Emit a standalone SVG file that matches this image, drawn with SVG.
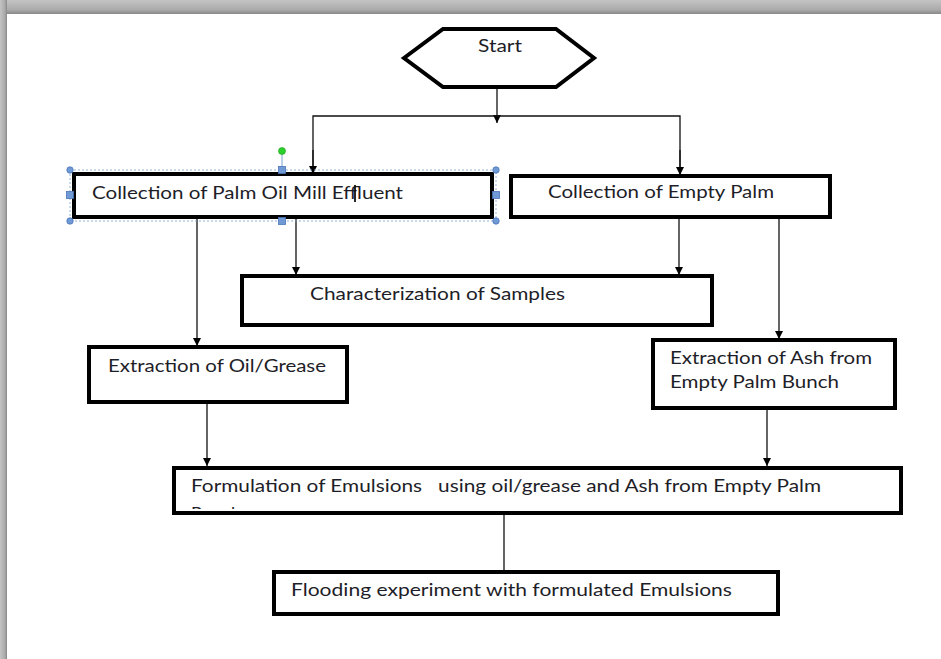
<svg xmlns="http://www.w3.org/2000/svg" width="941" height="659" viewBox="0 0 941 659">
<defs>
<linearGradient id="gTop" x1="0" y1="0" x2="0" y2="1">
<stop offset="0" stop-color="#c4c4c4"/>
<stop offset="0.7" stop-color="#aaaaaa"/>
<stop offset="1" stop-color="#888888"/>
</linearGradient>
<linearGradient id="gLeft" x1="0" y1="0" x2="1" y2="0">
<stop offset="0" stop-color="#c4c4c4"/>
<stop offset="0.7" stop-color="#aaaaaa"/>
<stop offset="1" stop-color="#888888"/>
</linearGradient>
<marker id="arr" viewBox="0 0 10 10" refX="10" refY="5" markerWidth="8" markerHeight="8" markerUnits="userSpaceOnUse" orient="auto">
<path d="M0,0 L10,5 L0,10 Z" fill="#000"/>
</marker>
<clipPath id="clipForm"><rect x="175" y="469" width="725" height="40"/></clipPath>
<style>
.box{fill:#fff;stroke:#000;stroke-width:4}
.lbl{font-family:Lato,"Liberation Sans",sans-serif;font-size:16.5px;fill:#1e1e28}
.con{fill:none;stroke:#111;stroke-width:1.3}
.hdl{fill:#6f9ad6;stroke:#4a74b8;stroke-width:0.8}
</style>
</defs>
<rect x="0" y="0" width="941" height="659" fill="#fff"/>
<rect x="0" y="0" width="941" height="14" fill="url(#gTop)"/>
<rect x="0" y="0" width="7" height="659" fill="url(#gLeft)"/>

<g id="connectors">
<line class="con" x1="497" y1="87" x2="497" y2="123" marker-end="url(#arr)"/>
<polyline class="con" points="313,174 313,116 680,116 680,174"/>
<line class="con" x1="313" y1="150" x2="313" y2="174" marker-end="url(#arr)"/>
<line class="con" x1="680" y1="150" x2="680" y2="175" marker-end="url(#arr)"/>
<line class="con" x1="197" y1="178" x2="197" y2="346" marker-end="url(#arr)"/>
<line class="con" x1="296" y1="218" x2="296" y2="275" marker-end="url(#arr)"/>
<line class="con" x1="679" y1="218" x2="679" y2="275" marker-end="url(#arr)"/>
<line class="con" x1="779" y1="218" x2="779" y2="339" marker-end="url(#arr)"/>
<line class="con" x1="207" y1="403" x2="207" y2="466" marker-end="url(#arr)"/>
<line class="con" x1="767" y1="409" x2="767" y2="466" marker-end="url(#arr)"/>
<line class="con" x1="504" y1="514" x2="504" y2="571"/>
</g>

<g id="start">
<polygon points="404,58 443,29 556,29 594,58 556,87 443,87" fill="#fff" stroke="#000" stroke-width="4"/>
<text class="lbl" x="478" y="52" textLength="44" lengthAdjust="spacingAndGlyphs">Start</text>
</g>

<g id="collect-pome">
<rect class="box" x="74" y="174" width="418" height="43"/>
<text class="lbl" x="92" y="199" textLength="311" lengthAdjust="spacingAndGlyphs">Collection of Palm Oil Mill Effluent</text>
<line x1="355" y1="185" x2="355" y2="202" stroke="#111" stroke-width="1.8"/>
<rect x="70" y="170" width="426" height="51" fill="none" stroke="#7d9fd0" stroke-width="0.8" stroke-dasharray="2,2"/>
<line x1="282" y1="151" x2="282" y2="170" stroke="#7d9fd0" stroke-width="1"/>
<circle cx="282" cy="151" r="3.5" fill="#2bd12b" stroke="#1a9a1a" stroke-width="0.6"/>
<circle class="hdl" cx="70" cy="170" r="3.2"/>
<circle class="hdl" cx="496" cy="170" r="3.2"/>
<circle class="hdl" cx="70" cy="221" r="3.2"/>
<circle class="hdl" cx="496" cy="221" r="3.2"/>
<rect class="hdl" x="278.5" y="166.5" width="7" height="7"/>
<rect class="hdl" x="278.5" y="217.5" width="7" height="7"/>
<rect class="hdl" x="66.5" y="191.5" width="7" height="7"/>
<rect class="hdl" x="492.5" y="191.5" width="7" height="7"/>
</g>

<g id="collect-efb">
<rect class="box" x="511" y="176" width="319" height="41"/>
<text class="lbl" x="548" y="198" textLength="226" lengthAdjust="spacingAndGlyphs">Collection of Empty Palm</text>
</g>

<g id="characterization">
<rect class="box" x="242" y="276" width="470" height="49"/>
<text class="lbl" x="310" y="300" textLength="255" lengthAdjust="spacingAndGlyphs">Characterization of Samples</text>
</g>

<g id="extract-oil">
<rect class="box" x="89" y="347" width="258" height="55"/>
<text class="lbl" x="108" y="372" textLength="218" lengthAdjust="spacingAndGlyphs">Extraction of Oil/Grease</text>
</g>

<g id="extract-ash">
<rect class="box" x="653" y="340" width="242" height="68"/>
<text class="lbl" x="670" y="364" textLength="202" lengthAdjust="spacingAndGlyphs">Extraction of Ash from</text>
<text class="lbl" x="670" y="388" textLength="169" lengthAdjust="spacingAndGlyphs">Empty Palm Bunch</text>
</g>

<g id="formulation">
<rect class="box" x="174" y="468" width="727" height="45"/>
<g clip-path="url(#clipForm)">
<text class="lbl" x="191" y="492" textLength="630" lengthAdjust="spacingAndGlyphs" xml:space="preserve">Formulation of Emulsions   using oil/grease and Ash from Empty Palm</text>
<text class="lbl" x="191" y="520" textLength="50" lengthAdjust="spacingAndGlyphs">Bunch</text>
</g>
</g>

<g id="flooding">
<rect class="box" x="274" y="572" width="504" height="42"/>
<text class="lbl" x="291" y="596" textLength="441" lengthAdjust="spacingAndGlyphs">Flooding experiment with formulated Emulsions</text>
</g>
</svg>
